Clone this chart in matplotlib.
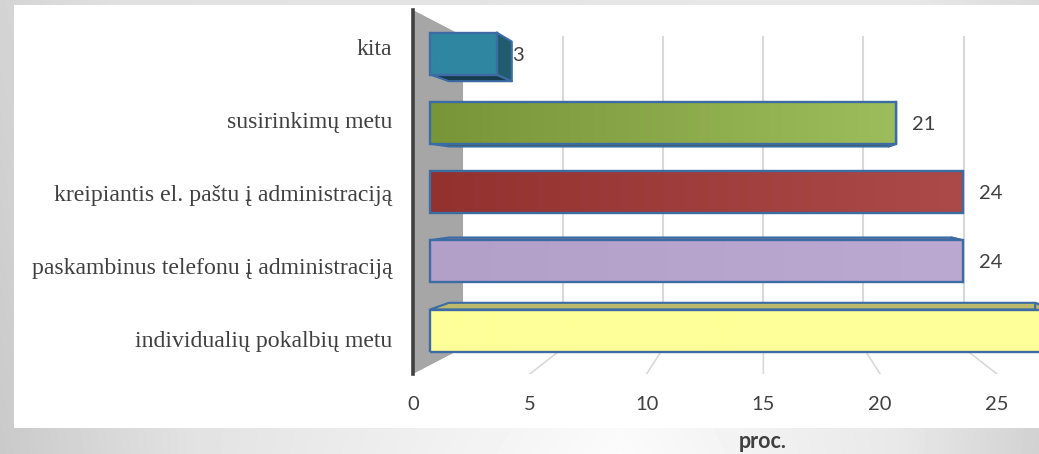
import numpy as np
import matplotlib
matplotlib.use("Agg")
import matplotlib.pyplot as plt
from matplotlib.colors import to_rgb
from matplotlib.patches import Polygon, Rectangle

categories = ["individualių pokalbių metu", "paskambinus telefonu į administraciją",
              "kreipiantis el. paštu į administraciją", "susirinkimų metu", "kita"]
values = [28, 24, 24, 21, 3]
axis_ticks = [0, 5, 10, 15, 20, 25]
axis_title = "proc."

left_colors = ["#ffff99", "#b3a0c9", "#93312f", "#789537", "#2f86a0"]
right_colors = ["#ffff99", "#bca9d1", "#ab4a48", "#9dbd5c", "#2f86a0"]
side_colors = ["#bdb96b", "#8a7aa0", "#6d2524", "#5a7129", "#205c6e"]
cap_colors = ["#bdb96b", "#8a7aa0", "#6d2524", "#3f5220", "#163c4e"]
EDGE = "#3c6ca3"
TXT = "#404040"

W, H = 1039, 454
fig = plt.figure(figsize=(W / 100, H / 100), dpi=100)

# page background
bg = fig.add_axes([0, 0, 1, 1])
bg.set_xlim(0, W); bg.set_ylim(H, 0); bg.axis("off")
xs = np.arange(W)
top = np.interp(xs, [0, 120, 900, 1039], [.83, .88, .91, .86])
bot = np.interp(xs, [0, 200, 620, 900, 1039], [.79, .89, .985, .91, .82])
grad = np.linspace(0, 1, H)[:, None] * (bot - top)[None, :] + top[None, :]
bg.imshow(grad, cmap="gray", vmin=0, vmax=1, extent=(0, W, H, 0), aspect="auto")
bg.add_patch(Rectangle((14, 5), W - 14, 423, fc="white", ec="none"))
bg.set_xlim(0, W); bg.set_ylim(H, 0)

# plot frame (front plane of the 3-D box)
AX_L, AX_T, AX_B = 413, 10, 374
ax = fig.add_axes([AX_L / W, 1 - AX_B / H, (W - AX_L) / W, (AX_B - AX_T) / H])
ax.patch.set_alpha(0)
xscale, x0 = 22.2, 430
yscale, y0 = 69.25, 330.5
xlim = ((AX_L - x0) / xscale, (W - x0) / xscale)
ylim = ((y0 - AX_B) / yscale, (y0 - AX_T) / yscale)

VP = (15.0, 2.0)          # vanishing point, data units
BAR_T, WALL_T = 0.057, 0.143
def deep(x, y, t):
    return (x + t * (VP[0] - x), y + t * (VP[1] - y))

floor_scale = 23.36
def floor_x(v):
    return (AX_L + floor_scale * v - x0) / xscale

# back wall
a, b = xlim[0], ylim[0]
c, d = ylim[1], WALL_T
ax.add_patch(Polygon([(a, c), deep(a, c, d), deep(a, b, d), (a, b)], fc="#a6a6a6", ec="none", zorder=1))

# grid on the back wall and floor
for v in axis_ticks[1:]:
    fx = floor_x(v)
    bx, by = deep(fx, ylim[0], WALL_T)
    tx, ty = deep(fx, ylim[1], WALL_T)
    ax.plot([bx, tx], [by, ty], color="#d9d9d9", lw=1.5, zorder=2, solid_capstyle="butt")
    ax.plot([fx, bx], [ylim[0], by], color="#d9d9d9", lw=1.2, zorder=2)

# bars
hh = 21 / yscale
for i, v in enumerate(values):
    lo, hi = i - hh, i + hh
    corners = {"top": [(0, hi), (v, hi)], "bot": [(0, lo), (v, lo)], "side": [(v, hi), (v, lo)]}
    for key, fc in (("top", cap_colors[i]), ("bot", cap_colors[i]), ("side", side_colors[i])):
        if key == "top" and i > 2: continue
        if key == "bot" and i < 2: continue
        if i == 2 and key != "side": continue
        p, q = corners[key]
        ax.add_patch(Polygon([p, q, deep(*q, BAR_T), deep(*p, BAR_T)], fc=fc, ec=EDGE, lw=1.5,
                             joinstyle="round", zorder=3 + i * .1))
    g = np.linspace(0, 1, 128)[None, :, None]
    img = (1 - g) * np.array(to_rgb(left_colors[i])) + g * np.array(to_rgb(right_colors[i]))
    ax.imshow(img, extent=(0, v, lo, hi), aspect="auto", zorder=4 + i * .1, interpolation="bilinear")
    ax.add_patch(Rectangle((0, lo), v, 2 * hh, fc="none", ec=EDGE, lw=1.7, zorder=4.05 + i * .1))
    if v <= 25:
        ax.text(v + 16 / xscale, i - (2 if v < 5 else 1.5) / yscale, str(v), ha="left", va="center",
                fontsize=14.5, family="Lato", color=TXT, zorder=6)

ax.set_xlim(*xlim); ax.set_ylim(*ylim)
ax.set_xticks([])
# the category labels are spread slightly wider than the bars in the reference
label_pos = [i * 1.0555 - 0.125 for i in range(len(categories))]
ax.set_yticks(label_pos, categories, family="Liberation Serif", fontsize=17.15, color=TXT)
ax.tick_params(axis="y", length=0, pad=15)
for s in ("top", "right", "bottom"):
    ax.spines[s].set_visible(False)
ax.spines["left"].set_color("#404040"); ax.spines["left"].set_linewidth(2.6)

# value axis, on the floor's front edge
fl = ax.twiny()
fl.set_xlim(0, (W - AX_L) / floor_scale)
fl.xaxis.set_ticks_position("bottom")
fl.set_xticks(axis_ticks, [str(t) for t in axis_ticks], family="Lato", fontsize=14.5, color=TXT)
fl.tick_params(axis="x", length=0, pad=16)
for s in fl.spines.values():
    s.set_visible(False)
fl.patch.set_alpha(0)

fig.text(763 / W, 1 - 448 / H, axis_title, ha="center", va="baseline", family="Lato",
         fontweight="bold", fontsize=15.5, color=TXT)
fig.savefig("out.png", dpi=100)
